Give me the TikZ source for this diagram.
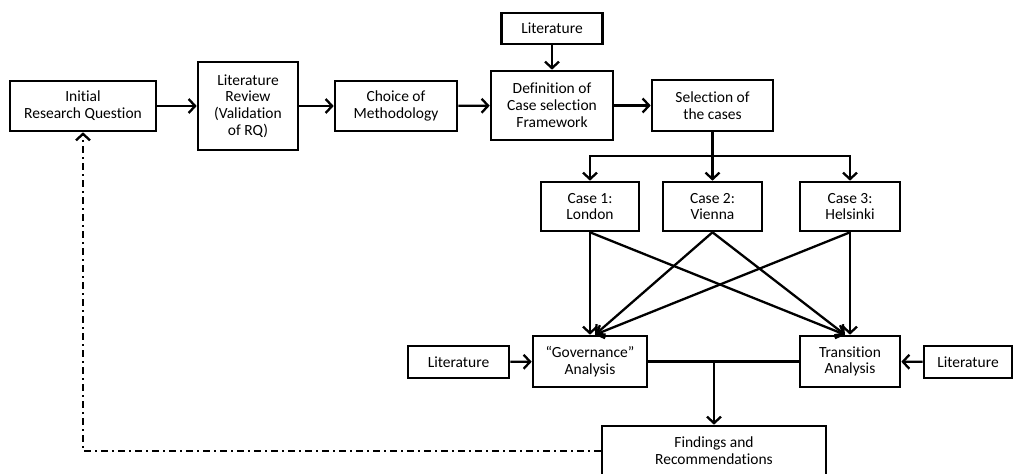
\documentclass[tikz,border=0pt]{standalone}
\usepackage{fontspec}
\setmainfont[Ligatures={TeX,NoCommon}]{Carlito}
\usetikzlibrary{arrows.meta}
\begin{document}
\begin{tikzpicture}[x=1pt,y=-1pt,
  box/.style={draw,line width=2.6pt,rectangle,inner sep=0pt,align=center,
    font=\fontsize{15.5}{16.8}\selectfont},
  conn/.style={line width=2.3pt,-{Straight Barb[length=6.5pt,width=14pt]}},
  plain/.style={line width=2.3pt},
  feedback/.style={line width=2.3pt,dash pattern=on 7pt off 4pt on 2pt off 4pt,
    -{Straight Barb[length=6.5pt,width=14pt]}}]
\useasboundingbox (0,0) rectangle (1015,474);

% main sequence
\node[box,minimum width=146pt,minimum height=50pt] (irq) at (83,106) {Initial\\Research Question};
\node[box,minimum width=100pt,minimum height=88pt] (litrev) at (248,106) {Literature\\Review\\(Validation\\of RQ)};
\node[box,minimum width=122pt,minimum height=50pt] (choice) at (396,106) {Choice of\\Methodology};
\node[box,minimum width=122pt,minimum height=69pt] (def) at (552,105.5) {Definition of\\Case selection\\Framework};
\node[box,minimum width=101pt,minimum height=31pt] (littop) at (552,28.5) {Literature};
\node[box,minimum width=121pt,minimum height=51pt] (sel) at (712.5,105.5) {Selection of\\the cases};

% cases
\node[box,minimum width=98pt,minimum height=49pt] (c1) at (590,206.5) {Case 1:\\London};
\node[box,minimum width=99pt,minimum height=49pt] (c2) at (712.5,206.5) {Case 2:\\Vienna};
\node[box,minimum width=100pt,minimum height=49pt] (c3) at (850,206.5) {Case 3:\\Helsinki};

% analyses
\node[box,minimum width=114pt,minimum height=51pt] (gov) at (590,361.5) {“Governance”\\Analysis};
\node[box,minimum width=100pt,minimum height=51pt] (trans) at (850,361.5) {Transition\\Analysis};
\node[box,minimum width=101pt,minimum height=32pt] (litL) at (458.5,362) {Literature};
\node[box,minimum width=88pt,minimum height=32pt] (litR) at (968,362) {Literature};

% outcome
\node[box,minimum width=224pt,minimum height=50pt] (find) at (714,451) {Findings and\\Recommendations};

% connectors along the top row
\draw[conn] (irq) -- (litrev);
\draw[conn] (litrev) -- (choice);
\draw[conn] (choice) -- (def);
\draw[conn] (littop) -- (def);
\draw[conn] (def) -- (sel);

% branching to the cases
\coordinate (split) at (712.5,156);
\draw[plain] (sel.south) -- (split);
\draw[conn] (split) -| (c1.north);
\draw[conn] (split) -- (c2.north);
\draw[conn] (split) -| (c3.north);

% cases to analyses
\draw[conn] (c1.south) -- (gov.north);
\draw[conn] (c1.south) -- ([xshift=-5pt]trans.north);
\draw[conn] (c2.south) -- ([xshift=5pt]gov.north);
\draw[conn] (c2.south) -- ([xshift=-5pt]trans.north);
\draw[conn] (c3.south) -- ([xshift=5pt]gov.north);
\draw[conn] (c3.south) -- (trans.north);

% literature inputs
\draw[conn] (litL) -- (gov);
\draw[conn] (litR) -- (trans);

% merge into findings
\coordinate (merge) at (714,361.5);
\draw[plain] (gov.east) -- (trans.west);
\draw[conn] (merge) -- (find.north);

% feedback loop
\coordinate (corner) at (83,451);
\draw[feedback] (find.west) -- (corner) -- (irq.south);
\end{tikzpicture}
\end{document}
